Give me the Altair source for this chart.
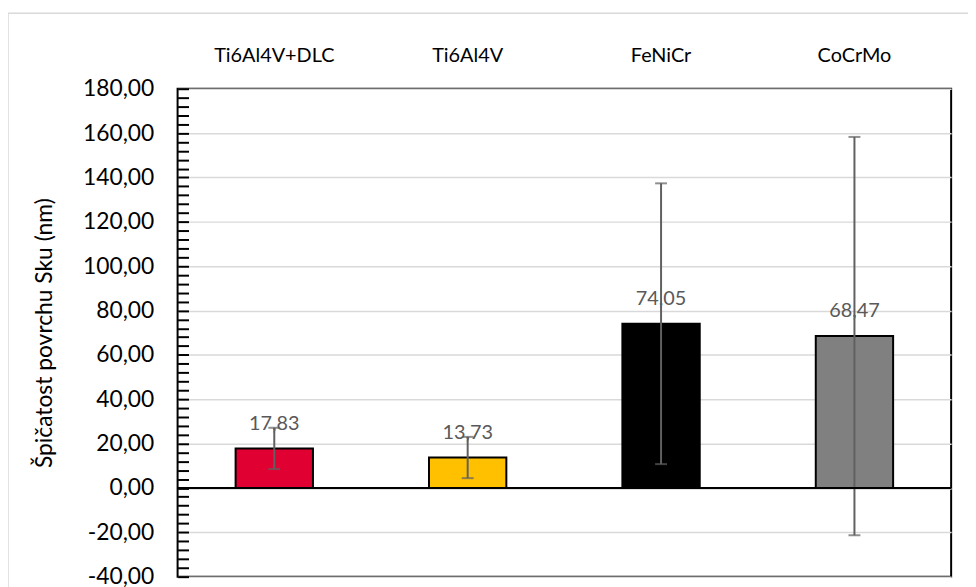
import altair as alt
import pandas as pd

# values
categories = ["Ti6Al4V+DLC", "Ti6Al4V", "FeNiCr", "CoCrMo"]
values = [17.83, 13.73, 74.05, 68.47]
errors = [9.3, 9.3, 63.3, 89.8]
colors = ["#E00031", "#FFC000", "#000000", "#808080"]

y_domain = [-40, 180]
minor_ticks = list(range(-40, 181, 4))

W = 780
H = 492
font = "Lato"

df = pd.DataFrame({
    "cat": categories,
    "val": values,
    "lo": [v - e for v, e in zip(values, errors)],
    "hi": [v + e for v, e in zip(values, errors)],
    "label": [f"{v:.2f}".replace(".", ",") for v in values],
})

x_axis = alt.Axis(orient="top", ticks=False, domain=False, labelAngle=0,
                  labelFont=font, labelFontSize=20, labelColor="#000000",
                  labelFontWeight="normal", labelPadding=23)
x_enc = alt.X("cat:N", sort=categories, title=None,
              scale=alt.Scale(paddingInner=0.6, paddingOuter=0.3), axis=x_axis)
y_scale = alt.Scale(domain=y_domain, nice=False, zero=False)

base = alt.Chart(df)

bars = base.mark_bar(stroke="black", strokeWidth=2).encode(
    x=x_enc,
    y=alt.Y("val:Q", scale=y_scale, title="Špičatost povrchu Sku (nm)",
            axis=alt.Axis(orient="left", values=list(range(-40, 181, 20)), ticks=False,
                          domain=False, grid=True, gridColor="#d9d9d9", gridWidth=1.5,
                          labelExpr="replace(replace(format(datum.value, '.2f'), '.', ','), '\u2212', '-')",
                          labelFont=font, labelFontSize=23, labelColor="#000000", labelPadding=24,
                          titleFont=font, titleFontSize=23, titleFontWeight="normal",
                          titleColor="#000000", titleX=-134, titleBaseline="middle")),
    color=alt.Color("cat:N", scale=alt.Scale(domain=categories, range=colors), legend=None),
)

labels = base.mark_text(font=font, fontSize=20, color="#595959", baseline="alphabetic", dy=-19).encode(
    x=x_enc,
    y=alt.Y("val:Q", scale=y_scale, axis=None),
    text="label:N",
)

err_rule = base.mark_rule(color="#606060", strokeWidth=2).encode(
    x=x_enc,
    y=alt.Y("lo:Q", scale=y_scale, axis=None),
    y2="hi:Q",
)
cap_lo = base.mark_tick(color="#606060", thickness=2, size=12).encode(
    x=x_enc,
    y=alt.Y("lo:Q", scale=y_scale, axis=None),
)
cap_hi = base.mark_tick(color="#606060", thickness=2, size=12).encode(
    x=x_enc,
    y=alt.Y("hi:Q", scale=y_scale, axis=None),
)

# zero line, also carries the inward minor ticks on the left edge
zero = alt.Chart(pd.DataFrame({"z": [0]})).mark_rule(color="black", strokeWidth=2).encode(
    y=alt.Y("z:Q", scale=y_scale, title=None,
            axis=alt.Axis(orient="right", offset=-W, values=minor_ticks, labels=False,
                          domain=False, grid=False, tickSize=11, tickWidth=2,
                          tickColor="#000000")),
)

# light outer frame of the chart
frame = alt.Chart(pd.DataFrame({"z": [0]})).mark_rect(
    fill=None, stroke="#d9d9d9", strokeWidth=1.5
).encode(
    x=alt.value(-171), x2=alt.value(W + 40),
    y=alt.value(-76), y2=alt.value(H + 40),
)

chart = alt.layer(frame, bars, labels, err_rule, cap_lo, cap_hi, zero).resolve_axis(
    y="independent"
).properties(
    width=W, height=H,
    autosize=alt.AutoSizeParams(type="none"),
    padding={"left": 171, "top": 79, "right": 17, "bottom": 8},
).configure_view(stroke="black", strokeWidth=2)

chart.save("out.html", embed_options={"renderer": "svg", "actions": False})
